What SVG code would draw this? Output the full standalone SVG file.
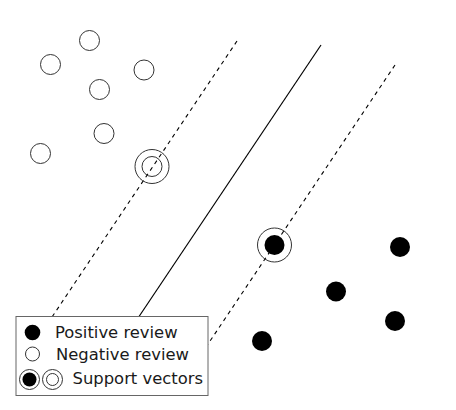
<svg xmlns="http://www.w3.org/2000/svg" width="456" height="410" viewBox="0 0 456 410">
<style>
.neg{fill:#fff;stroke:#333;stroke-width:1}
.pos{fill:#000;stroke:none}
.ring{fill:none;stroke:#333;stroke-width:1}
.dash{stroke:#000;stroke-width:1.1;stroke-dasharray:4,4;fill:none}
.solid{stroke:#000;stroke-width:1.2;fill:none}
.lbl{font-family:"DejaVu Sans",Verdana,sans-serif;font-size:16.4px;fill:#1a1a1a}
</style>
<rect width="456" height="410" fill="#fff"/>
<g id="connectors">
<line class="dash" x1="237" y1="41" x2="46" y2="326"/>
<line class="solid" x1="321" y1="45" x2="132" y2="327"/>
<line class="dash" x1="395" y1="65" x2="200" y2="356"/>
</g>
<g id="negatives">
<circle id="n1" class="neg" cx="89.5" cy="40.5" r="10"/>
<circle id="n2" class="neg" cx="50.5" cy="64.5" r="10"/>
<circle id="n3" class="neg" cx="144" cy="70" r="10"/>
<circle id="n4" class="neg" cx="99.5" cy="89.5" r="10"/>
<circle id="n5" class="neg" cx="104" cy="133.5" r="10"/>
<circle id="n6" class="neg" cx="40.5" cy="153.5" r="10"/>
</g>
<g id="sv-negative">
<circle class="ring" cx="152" cy="166.5" r="17"/>
<circle class="ring" cx="152" cy="166.5" r="10"/>
</g>
<g id="positives">
<circle id="p1" class="pos" cx="400" cy="247" r="10"/>
<circle id="p2" class="pos" cx="336" cy="291.5" r="10"/>
<circle id="p3" class="pos" cx="395" cy="321" r="10"/>
<circle id="p4" class="pos" cx="262" cy="341" r="10"/>
</g>
<g id="sv-positive">
<circle class="ring" cx="274.5" cy="245" r="17"/>
<circle class="pos" cx="274.5" cy="245" r="10"/>
</g>
<g id="legend">
<rect x="16" y="316.5" width="192" height="79" fill="#fff" stroke="#666" stroke-width="1"/>
<circle class="pos" cx="32.5" cy="332.5" r="7.8"/>
<text class="lbl" x="55" y="338">Positive review</text>
<circle class="neg" cx="32.5" cy="354" r="7"/>
<text class="lbl" x="56" y="360">Negative review</text>
<circle class="ring" cx="29.5" cy="379.5" r="10"/>
<circle class="pos" cx="29.5" cy="379.5" r="7"/>
<circle class="ring" cx="52.5" cy="379.5" r="10"/>
<circle class="ring" cx="52.5" cy="379.5" r="6"/>
<text class="lbl" x="72.5" y="384">Support vectors</text>
</g>
</svg>
